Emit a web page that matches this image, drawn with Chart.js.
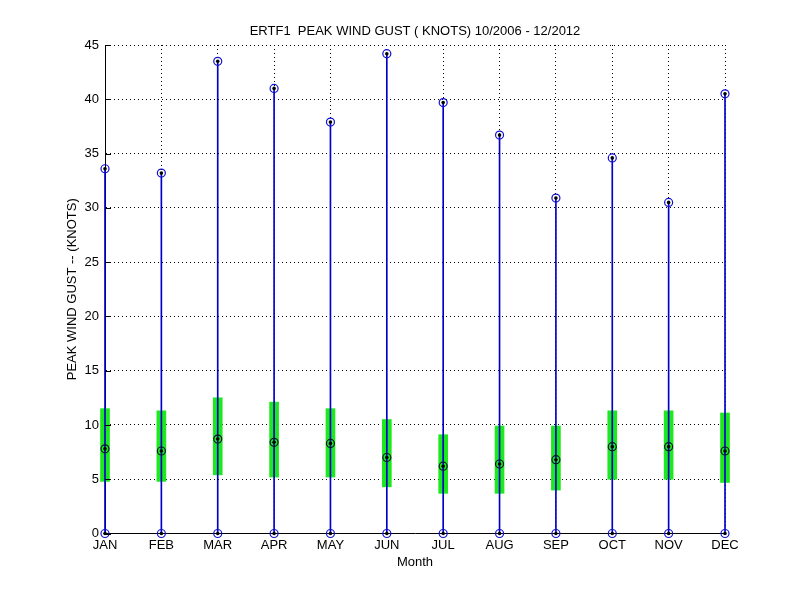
<!DOCTYPE html>
<html><head><meta charset="utf-8">
<script src="https://cdn.jsdelivr.net/npm/chart.js@4.4.0/dist/chart.umd.min.js"></script>
<style>html,body{margin:0;padding:0;background:#fff}</style>
</head><body>
<canvas id="c" width="800" height="600" style="width:800px;height:600px;display:block"></canvas>
<script>
const months = ['JAN','FEB','MAR','APR','MAY','JUN','JUL','AUG','SEP','OCT','NOV','DEC'];
const maxGust = [33.6, 33.2, 43.5, 41.0, 37.9, 44.2, 39.7, 36.7, 30.9, 34.6, 30.5, 40.5];
const minGust = [0, 0, 0, 0, 0, 0, 0, 0, 0, 0, 0, 0];
const q1 = [4.8, 4.8, 5.4, 5.2, 5.2, 4.3, 3.7, 3.7, 4.0, 5.0, 5.0, 4.7];
const q3 = [11.5, 11.3, 12.5, 12.1, 11.5, 10.5, 9.1, 9.9, 9.9, 11.3, 11.3, 11.1];
const medians = [7.8, 7.6, 8.7, 8.4, 8.3, 7.0, 6.2, 6.4, 6.8, 8.0, 8.0, 7.6];
const yMin = 0, yMax = 45, yStep = 5;

Chart.defaults.font.family = "'Liberation Sans', Arial, sans-serif";
Chart.defaults.font.size = 13;
Chart.defaults.color = '#000';

const boxData = months.map((m, i) => [q1[i], q3[i]]);
const whiskData = months.map((m, i) => [minGust[i], maxGust[i]]);

const inwardTicks = {
  id: 'inwardTicks',
  afterDraw(chart) {
    const ctx = chart.ctx, a = chart.chartArea;
    const ys = chart.scales.y;
    ctx.save();
    ctx.strokeStyle = '#000';
    ctx.lineWidth = 1;
    ctx.beginPath();
    ys.ticks.forEach(t => {
      const y = Math.round(ys.getPixelForValue(t.value)) + 0.5;
      ctx.moveTo(a.left, y); ctx.lineTo(a.left + 6, y);
    });
    ctx.stroke();
    ctx.restore();
  }
};

const pointDs = (data, border, order) => ({
  type: 'line', data, showLine: false, clip: false, order,
  pointStyle: 'circle', pointRadius: 4, pointHoverRadius: 4,
  pointBorderColor: border, pointBackgroundColor: 'rgba(0,0,0,0)', pointBorderWidth: 1.2
});
const dotDs = (data) => ({
  type: 'line', data, showLine: false, clip: false, order: 0,
  pointStyle: 'circle', pointRadius: 1.8, pointHoverRadius: 1.8,
  pointBorderColor: '#000', pointBackgroundColor: '#000', pointBorderWidth: 0
});

new Chart(document.getElementById('c'), {
  type: 'bar',
  data: {
    labels: months,
    datasets: [
      { data: boxData, backgroundColor: '#1ee81e', borderWidth: 0, barThickness: 9, grouped: false, clip: false, order: 3 },
      { data: whiskData, backgroundColor: '#0000cc', borderWidth: 0, barThickness: 1, grouped: false, clip: false, order: 2 },
      pointDs(maxGust, '#1010d0', 1),
      pointDs(minGust, '#1010d0', 1),
      pointDs(medians, '#101030', 1),
      dotDs(maxGust),
      dotDs(minGust),
      dotDs(medians)
    ]
  },
  options: {
    responsive: false,
    animation: false,
    events: [],
    layout: { padding: { left: 60, right: 75, top: 0, bottom: 25 } },
    plugins: {
      legend: { display: false },
      tooltip: { enabled: false },
      title: {
        display: true, fullSize: false,
        text: 'ERTF1  PEAK WIND GUST ( KNOTS) 10/2006 - 12/2012',
        font: { size: 13, weight: 'normal' }, color: '#000',
        padding: { top: 23.2, bottom: 6.2 }
      }
    },
    scales: {
      x: {
        type: 'category', offset: false,
        grid: { offset: false, color: '#000', lineWidth: 1, drawTicks: false },
        border: { display: true, color: '#000', width: 1, dash: [1, 3] },
        ticks: { padding: 4, maxRotation: 0, autoSkip: false, color: '#000' },
        title: { display: true, text: 'Month', font: { size: 13 }, color: '#000', padding: { top: 0, bottom: 4.7 } },
        afterFit(s) { s.height = 41.5; }
      },
      y: {
        type: 'linear', min: yMin, max: yMax,
        grid: { color: '#000', lineWidth: 1, drawTicks: false },
        border: { display: true, color: '#000', width: 1, dash: [1, 3] },
        ticks: { stepSize: yStep, padding: 6, color: '#000' },
        title: { display: true, text: 'PEAK WIND GUST -- (KNOTS)', font: { size: 13 }, color: '#000', padding: { top: 4.2, bottom: 0 } },
        afterFit(s) { s.width = 45; }
      }
    }
  },
  plugins: [inwardTicks]
});
</script>
</body></html>
